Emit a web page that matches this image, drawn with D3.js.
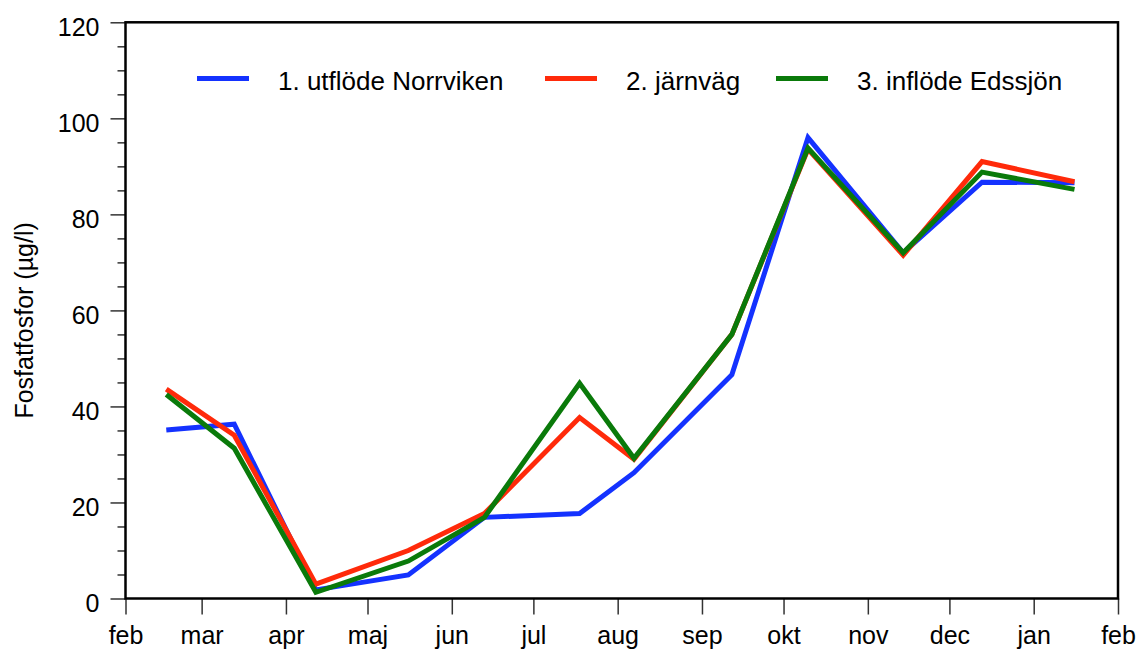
<!DOCTYPE html>
<html>
<head>
<meta charset="utf-8">
<script src="https://cdn.jsdelivr.net/npm/d3@7"></script>
<style>
  html, body { margin: 0; padding: 0; background: #fff; }
  svg { display: block; font-family: "Liberation Sans", Arial, sans-serif; }
</style>
</head>
<body>
<svg id="chart" width="1136" height="650"></svg>
<script>
// Sampling dates (one sample per month)
const sampleDates = ["2010-02-16", "2010-03-13", "2010-04-12", "2010-05-16", "2010-06-13", "2010-07-18",
                     "2010-08-07", "2010-09-12", "2010-10-10", "2010-11-14", "2010-12-13", "2011-01-16"];

// Phosphate phosphorus, µg/l
const norrviken = [35.1, 36.3, 1.8, 4.9, 16.9, 17.7, 26.2, 46.6, 96.0, 72.0, 86.7, 86.6];
const jarnvag   = [43.6, 34.0, 3.0, 10.0, 17.7, 37.7, 29.0, 55.0, 93.6, 71.5, 91.0, 86.8];
const edssjon   = [42.5, 31.3, 1.3, 7.8, 16.9, 44.8, 29.2, 55.0, 93.8, 72.0, 88.8, 85.2];

const seriesNames  = ["1. utflöde Norrviken", "2. järnväg", "3. inflöde Edssjön"];
const seriesColors = ["#1432ff", "#ff2a0a", "#0a7a0a"];

const monthLabels = ["feb", "mar", "apr", "maj", "jun", "jul", "aug", "sep", "okt", "nov", "dec", "jan", "feb"];
const yTicks = [0, 20, 40, 60, 80, 100, 120];
const yLabel = "Fosfatfosfor (µg/l)";

const svg = d3.select("#chart");
const plotLeft = 125.5, plotRight = 1118, plotTop = 22.3, plotBottom = 598.5;

const x = d3.scaleUtc()
  .domain([new Date("2010-02-01T00:00:00Z"), new Date("2011-02-01T00:00:00Z")])
  .range([plotLeft, plotRight]);
const y = d3.scaleLinear().domain([0, 120]).range([plotBottom, plotTop]);

const fontSize = 25;

// Y axis: major and minor ticks
const yAxisMajor = d3.axisLeft(y).tickValues(yTicks).tickSize(15).tickPadding(11).tickFormat(d3.format("d"));
const gy = svg.append("g").attr("transform", `translate(${plotLeft},0)`).call(yAxisMajor);
gy.select(".domain").remove();
gy.selectAll(".tick line").attr("stroke", "#333").attr("stroke-width", 1.5);
gy.selectAll(".tick text").attr("font-size", fontSize).attr("fill", "#000")
  .attr("font-family", "Liberation Sans, Arial, sans-serif").attr("dy", "0.52em");

const minor = d3.range(0, 121, 5).filter(v => v % 20 !== 0);
const gym = svg.append("g").attr("transform", `translate(${plotLeft},0)`)
  .call(d3.axisLeft(y).tickValues(minor).tickSize(8).tickFormat(""));
gym.select(".domain").remove();
gym.selectAll(".tick line").attr("stroke", "#333").attr("stroke-width", 1.5);

// X axis: month boundaries
const monthTicks = d3.utcMonth.range(x.domain()[0], d3.utcDay.offset(x.domain()[1], 1));
const xAxis = d3.axisBottom(x).tickValues(monthTicks).tickSize(16).tickPadding(12)
  .tickFormat((d, i) => monthLabels[i]);
const gx = svg.append("g").attr("transform", `translate(0,${plotBottom})`).call(xAxis);
gx.select(".domain").remove();
gx.selectAll(".tick line").attr("stroke", "#333").attr("stroke-width", 1.5);
gx.selectAll(".tick text").attr("font-size", fontSize).attr("fill", "#000")
  .attr("font-family", "Liberation Sans, Arial, sans-serif");

// Y axis title
svg.append("text")
  .attr("transform", `translate(33,${(plotTop + plotBottom) / 2 + 10}) rotate(-90)`)
  .attr("text-anchor", "middle")
  .attr("font-size", fontSize)
  .text(yLabel);

// Data lines
const parse = d3.utcParse("%Y-%m-%d");
const dates = sampleDates.map(parse);
const line = d3.line().x((d, i) => x(dates[i])).y(d => y(d));
[norrviken, jarnvag, edssjon].forEach((vals, k) => {
  svg.append("path")
    .datum(vals)
    .attr("d", line)
    .attr("fill", "none")
    .attr("stroke", seriesColors[k])
    .attr("stroke-width", 5)
    .attr("stroke-linejoin", "miter");
});

// Plot frame
svg.append("rect")
  .attr("x", plotLeft).attr("y", plotTop)
  .attr("width", plotRight - plotLeft).attr("height", plotBottom - plotTop)
  .attr("fill", "none").attr("stroke", "#000").attr("stroke-width", 2.5);

// Legend
const legendX = [197, 545, 776];
const legendY = 78.5;
const legend = svg.append("g");
seriesNames.forEach((name, k) => {
  legend.append("line")
    .attr("x1", legendX[k]).attr("x2", legendX[k] + 52)
    .attr("y1", legendY).attr("y2", legendY)
    .attr("stroke", seriesColors[k]).attr("stroke-width", 5);
  legend.append("text")
    .attr("x", legendX[k] + 81).attr("y", legendY + 11.5)
    .attr("font-size", 26)
    .text(name);
});
</script>
</body>
</html>
